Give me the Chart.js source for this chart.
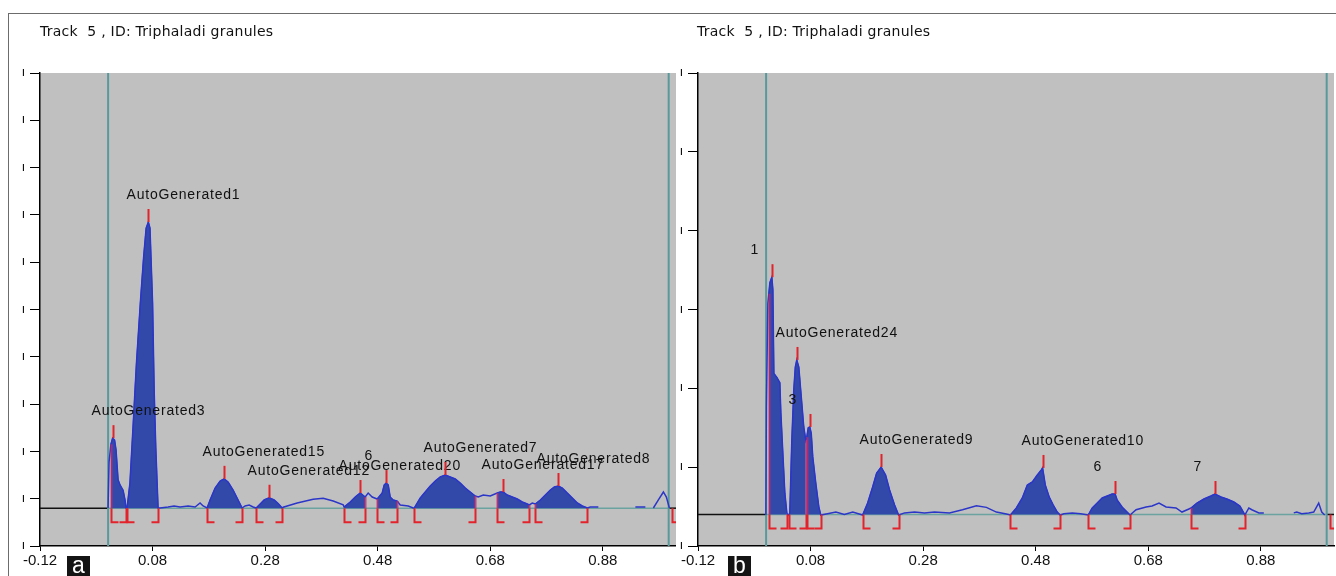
<!DOCTYPE html>
<html>
<head>
<meta charset="utf-8">
<script src="https://cdn.jsdelivr.net/npm/chart.js@4/dist/chart.umd.min.js"></script>
<style>
  html, body { margin: 0; padding: 0; background: #fff; width: 1336px; height: 576px; overflow: hidden; }
  .frame { position: absolute; left: 8px; top: 13px; width: 1400px; height: 700px;
           border-top: 1px solid #6c6c6c; border-left: 1px solid #6c6c6c; }
  .title { position: absolute; top: 23px; font: 14px "DejaVu Sans", sans-serif; letter-spacing: 0.25px;
           color: #111; white-space: pre; }
  .badge { position: absolute; top: 556px; width: 23px; height: 22px; background: #141414; color: #fff;
           font: 23px "Liberation Sans", Arial, sans-serif; line-height: 19px; text-align: center; }
  #wrapA { position: absolute; left: 0; top: 0; width: 676px; height: 576px; }
  #wrapB { position: absolute; left: 676px; top: 0; width: 660px; height: 576px; }
</style>
</head>
<body>
<div class="frame"></div>
<div id="wrapA"><canvas id="chartA" width="676" height="576"></canvas></div>
<div id="wrapB"><canvas id="chartB" width="660" height="576"></canvas></div>
<div class="title" id="titleA" style="left:40px"></div>
<div class="title" id="titleB" style="left:697px"></div>
<div class="badge" style="left:67px">a</div>
<div class="badge" style="left:728px">b</div>
<script>
// axis ticks shared by both tracks
const xTickValues = [-0.12, 0.08, 0.28, 0.48, 0.68, 0.88];
const xTickLabels = ['-0.12', '0.08', '0.28', '0.48', '0.68', '0.88'];
const trackTitle = 'Track  5 , ID: Triphaladi granules';
const startLineRf = 0.001;
const frontLineRf = 0.997;
const endBracketRf = 1.003;

// track a (densitogram, Rf vs AU)
const rfA = [
  0.0009, 0.0027, 0.006, 0.009, 0.0125, 0.0151, 0.0187, 0.0222, 0.0276, 0.0311, 0.0329,
  0.0347, 0.0398, 0.0457, 0.0514, 0.0583, 0.064, 0.0686, 0.0725, 0.0754, 0.08, 0.0828, 0.0857, 0.0898,
  0.0933, 0.1076, 0.1182, 0.1289, 0.1431, 0.1556, 0.1644, 0.1698,
  0.1769, 0.1822, 0.1911, 0.2, 0.2071, 0.2142, 0.2231, 0.2302, 0.2391,
  0.2444, 0.2516, 0.2587,
  0.264, 0.2711, 0.2782, 0.2871, 0.296, 0.3031, 0.3102,
  0.312, 0.3369, 0.3653, 0.3831, 0.4009, 0.4187,
  0.4204, 0.4311, 0.44, 0.4489, 0.4578, 0.4631, 0.4702,
  0.4791, 0.488, 0.4916, 0.4951, 0.4987, 0.5022, 0.5076, 0.5147,
  0.52, 0.5342, 0.5431,
  0.5449, 0.5556, 0.5644, 0.5733, 0.5822, 0.5911, 0.6, 0.6089, 0.6178, 0.6267, 0.6356, 0.6444, 0.6533,
  0.6587, 0.6676, 0.68,
  0.6924, 0.6978, 0.7031, 0.7102, 0.7191, 0.728, 0.7369, 0.7458, 0.7493,
  0.7547,
  0.76, 0.7689, 0.7778, 0.7867, 0.7938, 0.8009, 0.808, 0.8169, 0.8258, 0.8347, 0.8436, 0.8524,
  0.8578, 0.872, 0.89, 0.9378, 0.9556, 0.962, 0.9698, 0.9787, 0.9876, 0.9929, 0.9982
];
const signalA = [
  8.03, 17.8, 21.5, 22.8, 22.4, 20.3, 14.0, 12.9, 11.8, 9.7, 8.03,
  8.03, 13.3, 26.0, 38.7, 51.4, 60.9, 67.2, 68.5, 67.2, 51.4, 33.0, 20.8, 8.03,
  8.03, 8.25, 8.46, 8.25, 8.46, 8.25, 9.09, 8.46,
  8.03, 9.73, 12.26, 13.74, 14.2, 13.53, 11.84, 10.15, 8.03,
  8.46, 8.67, 8.25,
  8.03, 8.88, 9.73, 10.2, 9.73, 9.0, 8.03,
  8.2, 9.1, 9.9, 10.1, 9.5, 8.7,
  8.25, 9.3, 10.36, 11.2, 10.36, 11.2, 10.36,
  9.94, 11.2, 12.9, 13.3, 12.9, 10.36, 9.73, 9.5,
  8.67, 8.46, 8.03,
  8.03, 10.15, 11.42, 12.68, 13.74, 14.59, 15.01, 14.59, 14.16, 13.32, 12.26, 11.42, 10.57,
  10.36, 10.78, 10.57,
  11.21, 11.42, 11.42, 10.78, 10.36, 9.94, 9.3, 8.88, 8.67,
  9.09,
  8.88, 9.73, 10.78, 11.84, 12.47, 12.68, 12.26, 11.21, 10.15, 9.09, 8.46, 8.03,
  8.25, 8.25, null, 8.25, 8.25, null, 8.03, 9.73, 11.42, 10.36, 8.03
];
const peakLabelsA = ['AutoGenerated3', 'AutoGenerated1', 'AutoGenerated15', 'AutoGenerated12', 'AutoGenerated20',
  '6', 'AutoGenerated7', 'AutoGenerated17', 'AutoGenerated8'];
const peakStartA = [0.006, 0.0347, 0.1769, 0.264, 0.4204, 0.4791, 0.5449, 0.6924, 0.76];
const peakEndA = [0.0329, 0.0898, 0.2391, 0.3102, 0.4578, 0.5147, 0.6533, 0.7493, 0.8524];
const peakApexRfA = [0.009, 0.0725, 0.2071, 0.2871, 0.4489, 0.4951, 0.6, 0.7031, 0.8009];
const peakApexA = [22.8, 68.5, 14.2, 10.2, 11.2, 13.3, 15.01, 11.42, 12.68];
const baselineA = 8;
const yTicksA = [0, 10, 20, 30, 40, 50, 60, 70, 80, 90, 100];

// track b
const rfB = [
  0.0006, 0.0015, 0.0041, 0.0059, 0.0077, 0.0112, 0.013, 0.0148, 0.0201, 0.0254, 0.0272, 0.0307, 0.0343, 0.0378,
  0.0396,
  0.0413, 0.0431, 0.0467, 0.0502, 0.0529, 0.0555, 0.0591, 0.0635, 0.0679, 0.0715,
  0.0733, 0.0759, 0.0786, 0.0812, 0.0839, 0.0892, 0.0946, 0.0981,
  0.11, 0.125, 0.14, 0.155,
  0.1725, 0.1814, 0.1903, 0.1974, 0.2054, 0.2133, 0.2204, 0.2293, 0.2364,
  0.247, 0.2648, 0.2825, 0.3002, 0.3268, 0.3499, 0.3747, 0.3924, 0.4101, 0.4279,
  0.435, 0.4456, 0.4562, 0.4651, 0.474, 0.4828, 0.4899, 0.4922, 0.497, 0.5041, 0.5112, 0.5183, 0.5236,
  0.53, 0.545, 0.56,
  0.5733, 0.5804, 0.5892, 0.5981, 0.607, 0.6158, 0.6211, 0.6247, 0.6335, 0.6424, 0.6477,
  0.6584, 0.6761, 0.6867, 0.6991, 0.7116, 0.7293, 0.7399, 0.7523,
  0.7559, 0.7665, 0.7789, 0.7913, 0.7984, 0.8091, 0.8197, 0.8321, 0.8428, 0.8499, 0.8516,
  0.8587, 0.864, 0.8765, 0.8853, 0.9066, 0.9385, 0.9438, 0.9527, 0.9651, 0.974, 0.9828, 0.9882, 0.9935
];
const signalB = [
  3.93, 17.6, 30.8, 32.0, 33.4, 34.1, 32.5, 21.9, 21.4, 20.7, 16.9, 11.8, 6.7, 4.2,
  3.93,
  3.93, 4.2, 13.4, 19.8, 22.7, 23.6, 22.7, 18.9, 15.1, 13.4,
  13.8, 15.0, 15.1, 14.3, 11.3, 8.0, 5.0, 3.93,
  4.1, 4.3, 4.0, 4.3,
  3.93, 5.45, 7.48, 9.26, 10.02, 9.0, 7.1, 5.2, 3.93,
  4.2, 4.3, 4.2, 4.3, 4.2, 4.6, 5.1, 4.9, 4.3, 4.06,
  3.93, 4.82, 6.09, 7.74, 8.12, 9.0, 9.64, 9.9, 7.74, 6.2, 5.2, 4.31, 3.93,
  4.1, 4.2, 4.1,
  3.93, 4.82, 5.45, 6.09, 6.34, 6.6, 6.6, 5.83, 4.95, 4.31, 3.93,
  4.6, 4.95, 5.07, 5.45, 4.95, 4.82, 4.31, 4.7,
  4.82, 5.45, 5.96, 6.34, 6.6, 6.22, 5.96, 5.58, 5.07, 4.18, 3.93,
  4.82, 4.6, 4.2, 4.2, null, 4.2, 4.3, 4.1, 4.2, 4.3, 5.45, 4.3, 3.93
];
const peakLabelsB = ['1', 'AutoGenerated24', '3', 'AutoGenerated9', 'AutoGenerated10', '6', '7'];
const peakStartB = [0.0059, 0.0413, 0.0733, 0.1725, 0.435, 0.5733, 0.7559];
const peakEndB = [0.0378, 0.0715, 0.0981, 0.2364, 0.5236, 0.6477, 0.8516];
const peakApexRfB = [0.0112, 0.0555, 0.0786, 0.2054, 0.4922, 0.6211, 0.7984];
const peakApexB = [34.1, 23.6, 15.1, 10.02, 9.9, 6.6, 6.6];
const baselineB = 4;
const yTicksB = [0, 10, 20, 30, 40, 50, 60];

const RED = '#e3232b';

function nearestValue(rf, signal, at) {
  let best = 0;
  rf.forEach((v, i) => {
    if (signal[i] !== null && Math.abs(v - at) < Math.abs(rf[best] - at)) best = i;
  });
  return signal[best];
}

function line(ctx, x1, y1, x2, y2) {
  ctx.beginPath();
  ctx.moveTo(x1, y1);
  ctx.lineTo(x2, y2);
  ctx.stroke();
}

const densitogram = {
  id: 'densitogram',
  beforeDraw(chart) {
    const { ctx, chartArea: a } = chart;
    ctx.save();
    ctx.fillStyle = '#c0c0c0';
    ctx.fillRect(a.left, a.top, a.right - a.left, a.bottom - a.top);
    ctx.restore();
  },
  beforeDatasetsDraw(chart, args, o) {
    const { ctx, chartArea: a, scales: { x, y } } = chart;
    const yb = y.getPixelForValue(o.baseline);
    const x0 = x.getPixelForValue(startLineRf);
    const x1 = x.getPixelForValue(frontLineRf);
    ctx.save();
    ctx.lineWidth = 1.5;
    ctx.strokeStyle = '#111';
    line(ctx, a.left, yb, x0, yb);
    line(ctx, x1, yb, a.right, yb);
    ctx.strokeStyle = '#6aa3a0';
    line(ctx, x0, yb, x1, yb);
    ctx.lineWidth = 2;
    ctx.strokeStyle = '#58999b';
    line(ctx, x0, a.top, x0, a.bottom);
    line(ctx, x1, a.top, x1, a.bottom);
    ctx.restore();
  },
  afterDatasetsDraw(chart, args, o) {
    const { ctx, chartArea: a, scales: { x, y } } = chart;
    const yb = y.getPixelForValue(o.baseline);
    ctx.save();
    ctx.beginPath();
    ctx.rect(a.left, a.top, a.right - a.left, a.bottom - a.top);
    ctx.clip();
    ctx.lineWidth = 2;

    const bracket = (rf, dir) => {
      const px = Math.round(x.getPixelForValue(rf)) + 0.5;
      const top = y.getPixelForValue(nearestValue(o.rf, o.signal, rf));
      if (top < yb - 2) {
        ctx.strokeStyle = 'rgba(190,40,110,0.8)';
        line(ctx, px, top, px, yb);
      }
      ctx.strokeStyle = RED;
      ctx.beginPath();
      ctx.moveTo(px, yb);
      ctx.lineTo(px, yb + 14);
      ctx.lineTo(px + dir * 7, yb + 14);
      ctx.stroke();
    };

    o.starts.forEach((s, k) => {
      bracket(s, 1);
      bracket(o.ends[k], -1);
    });
    bracket(endBracketRf, 1);

    ctx.font = '14px "Liberation Sans", Arial, sans-serif';
    if ('letterSpacing' in ctx) ctx.letterSpacing = '0.8px';
    ctx.textAlign = 'left';
    ctx.textBaseline = 'middle';
    o.apexRf.forEach((rf, k) => {
      const px = Math.round(x.getPixelForValue(rf)) + 0.5;
      const py = y.getPixelForValue(o.apex[k]);
      ctx.strokeStyle = RED;
      line(ctx, px, py, px, py - 13);
      ctx.fillStyle = '#111';
      ctx.fillText(o.labels[k], px - 22, py - 27);
    });
    ctx.restore();
  }
};

function peakPoints(rf, signal, from, to) {
  return rf.map((v, i) => ({ x: v, y: signal[i] }))
    .filter(p => p.y !== null && p.x >= from - 1e-6 && p.x <= to + 1e-6);
}

function makeChart(canvasId, t) {
  const datasets = [{
    data: t.rf.map((v, i) => ({ x: v, y: t.signal[i] })),
    borderColor: '#2b36c8',
    borderWidth: 1.5,
    pointRadius: 0,
    fill: false,
    spanGaps: false
  }];
  t.starts.forEach((s, k) => {
    datasets.push({
      data: peakPoints(t.rf, t.signal, s, t.ends[k]),
      borderColor: '#3147a9',
      borderWidth: 1,
      backgroundColor: '#3249aa',
      pointRadius: 0,
      fill: { value: t.baseline }
    });
  });

  return new Chart(document.getElementById(canvasId), {
    type: 'line',
    data: { datasets },
    options: {
      responsive: false,
      animation: false,
      events: [],
      layout: { padding: { top: 73, right: t.padRight, left: 0, bottom: 0 } },
      plugins: {
        legend: { display: false },
        tooltip: { enabled: false },
        densitogram: t
      },
      scales: {
        x: {
          type: 'linear',
          min: -0.12,
          max: 1.01,
          afterBuildTicks: scale => { scale.ticks = xTickValues.map(value => ({ value })); },
          afterFit: scale => { scale.height = 30; },
          ticks: {
            autoSkip: false,
            maxRotation: 0,
            padding: 1,
            color: '#111',
            font: { family: '"Liberation Sans", Arial, sans-serif', size: 15 },
            callback: (value, index) => xTickLabels[index]
          },
          grid: { drawOnChartArea: false, tickLength: 5, color: '#000' },
          border: { color: '#000', width: 1.5 }
        },
        y: {
          type: 'linear',
          min: 0,
          max: t.yTicks[t.yTicks.length - 1],
          afterBuildTicks: scale => { scale.ticks = t.yTicks.map(value => ({ value })); },
          afterFit: scale => { scale.width = t.axisWidth; },
          ticks: {
            padding: 5,
            color: '#000',
            font: { family: '"DejaVu Sans", sans-serif', size: 12 },
            callback: () => 'ı'
          },
          grid: { drawOnChartArea: false, tickLength: 10, color: '#000' },
          border: { color: '#000', width: 1.5 }
        }
      }
    },
    plugins: [densitogram]
  });
}

document.getElementById('titleA').textContent = trackTitle;
document.getElementById('titleB').textContent = trackTitle;

makeChart('chartA', {
  rf: rfA, signal: signalA, baseline: baselineA, yTicks: yTicksA,
  labels: peakLabelsA, starts: peakStartA, ends: peakEndA, apexRf: peakApexRfA, apex: peakApexA,
  axisWidth: 40, padRight: 0
});

makeChart('chartB', {
  rf: rfB, signal: signalB, baseline: baselineB, yTicks: yTicksB,
  labels: peakLabelsB, starts: peakStartB, ends: peakEndB, apexRf: peakApexRfB, apex: peakApexB,
  axisWidth: 22, padRight: 2
});
</script>
</body>
</html>
